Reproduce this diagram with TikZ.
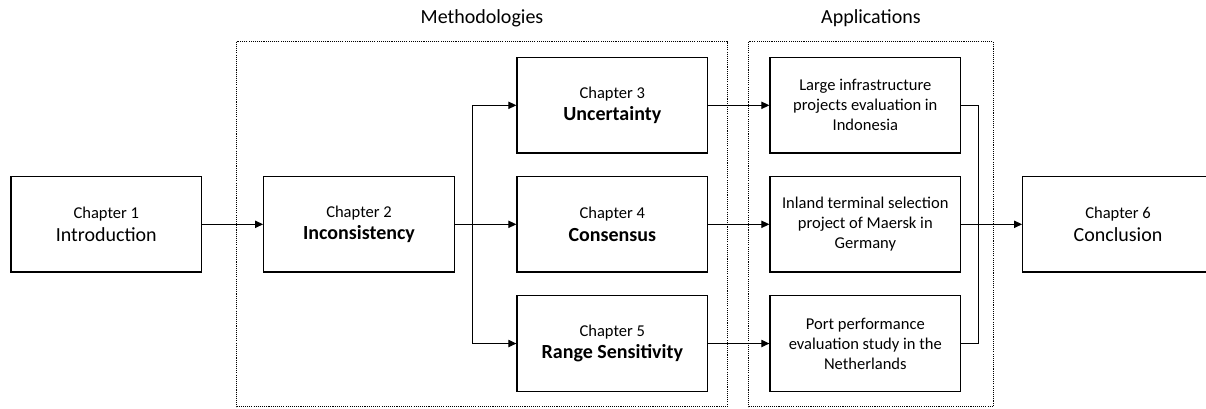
\documentclass[tikz,border=0pt]{standalone}
\usepackage{fontspec}
\setmainfont{Carlito}
\usepackage{tikz}
\usetikzlibrary{
    arrows.meta,
    positioning
}

\tikzset{
    chapbox/.style={draw, line width=0.9pt, minimum width=143pt, minimum height=71.5pt,
        align=center, font=\fontsize{12.4pt}{17pt}\selectfont},
    appbox/.style={chapbox, font=\fontsize{12.4pt}{15pt}\selectfont},
    frame/.style={line width=0.6pt, dash pattern=on 0.8pt off 0.8pt},
    link/.style={line width=0.75pt, -{Triangle[length=6pt, width=5.5pt]}},
    joint/.style={line width=0.75pt},
    grouptitle/.style={font=\fontsize{15pt}{17pt}\selectfont}
}
\newcommand{\chaptitle}[1]{{\fontsize{15pt}{17pt}\selectfont #1}}
\newcommand{\chaptitlebf}[1]{{\fontsize{15pt}{17pt}\selectfont\bfseries #1}}

\begin{document}
\begin{tikzpicture}[x=0.75pt, y=-0.75pt]
\clip (0,0) rectangle (1206,408);

% Groups
\draw[frame] (236.7,41.7) rectangle (727.2,406.7);
\node[grouptitle] (methtitle) at (482,18) {Methodologies};
\draw[frame] (748.8,41.7) rectangle (993,406.7);
\node[grouptitle] (apptitle) at (870.9,18) {Applications};

% Chapters
\node[chapbox] (ch1) at (106.3,224.3) {Chapter 1\\\chaptitle{Introduction}};
\node[chapbox] (ch2) at (359,224.3) {Chapter 2\\\chaptitlebf{Inconsistency}};
\node[chapbox] (ch3) at (612.3,105.3) {Chapter 3\\\chaptitlebf{Uncertainty}};
\node[chapbox] (ch4) at (612.3,224.3) {Chapter 4\\\chaptitlebf{Consensus}};
\node[chapbox] (ch5) at (612.3,343.5) {Chapter 5\\\chaptitlebf{Range Sensitivity}};
\node[chapbox] (ch6) at (1118,224.3) {Chapter 6\\\chaptitle{Conclusion}};

% Applications
\node[appbox] (app1) at (865.3,105.3) {Large infrastructure\\projects evaluation in\\Indonesia};
\node[appbox] (app2) at (865.3,224.3) {Inland terminal selection\\project of Maersk in\\Germany};
\node[appbox] (app3) at (865.3,343.5) {Port performance\\evaluation study in the\\Netherlands};

% Connectors
\coordinate (split) at (472.5,224.3);
\coordinate (merge) at (978,224.3);

\draw[link] (ch1) -- (ch2);
\draw[joint] (ch2) -- (split);
\draw[link] (split) |- (ch3);
\draw[link] (split) -- (ch4);
\draw[link] (split) |- (ch5);

\foreach \i in {1,2,3} {
    \pgfmathtruncatemacro{\c}{\i+2}
    \draw[link] (ch\c) -- (app\i);
}

\draw[joint] (app1) -| (merge);
\draw[joint] (app3) -| (merge);
\draw[link] (app2) -- (ch6);

\end{tikzpicture}
\end{document}
